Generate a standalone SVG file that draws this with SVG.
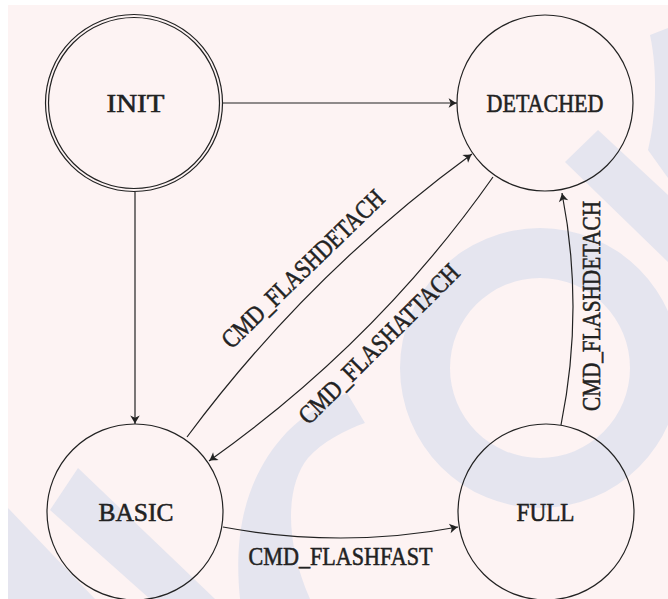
<svg xmlns="http://www.w3.org/2000/svg" width="668" height="599" viewBox="0 0 668 599">
  <style>
    .node { fill: none; stroke: #222; stroke-width: 1.2; }
    .edge { fill: none; stroke: #222; stroke-width: 1.2; }
    .lbl { font-family: "Liberation Serif", "DejaVu Serif", serif; font-size: 26px; fill: #222; stroke: #222; stroke-width: 0.55; text-anchor: middle; }
    .wm { fill: #e5e5ef; }
  </style>
  <defs>
    <marker id="arr" markerUnits="userSpaceOnUse" markerWidth="12" markerHeight="12" viewBox="-8 -5 10 10" refX="0" refY="0" orient="auto">
      <path d="M0,0 C-2,-0.8 -4.5,-2.5 -7,-4 L-5.3,0 L-7,4 C-4.5,2.5 -2,0.8 0,0 Z" fill="#222"/>
    </marker>
  </defs>

  <g id="background">
    <rect x="0" y="0" width="668" height="599" fill="#ffffff"/>
    <rect x="8" y="5" width="660" height="594" fill="#fdf3f3"/>
    <path class="wm" fill-rule="evenodd" d="M400,368 A140,140 0 1 0 680,368 A140,140 0 1 0 400,368 Z M450,368 A90,90 0 1 0 630,368 A90,90 0 1 0 450,368 Z"/>
    <path class="wm" d="M240,599 C234,540 242,480 287,432 C305,414 325,402 347,393 L365,423 C345,430 322,442 308,458 C286,485 284,540 310,599 Z"/>
    <polygon class="wm" points="565,162 598,130 668,195 668,262"/>
    <path class="wm" d="M650,35 L668,28 L668,178 L648,150 C656,118 658,72 650,35 Z"/>
    <polygon class="wm" points="50,510 78,468 215,599 150,599"/>
    <polygon class="wm" points="8,508 95,599 8,599"/>
  </g>

  <g id="connectors">
    <line class="edge" x1="222" y1="103" x2="457" y2="103" marker-end="url(#arr)"/>
    <line class="edge" x1="135" y1="192" x2="135" y2="424" marker-end="url(#arr)"/>
    <path class="edge" d="M187,437 Q308,274 472,154" marker-end="url(#arr)"/>
    <path class="edge" d="M493,177 Q377,342 209,461" marker-end="url(#arr)"/>
    <path class="edge" d="M223,527 Q341,549 458,527" marker-end="url(#arr)"/>
    <path class="edge" d="M561,425 Q584.5,309 562,193" marker-end="url(#arr)"/>
    <text class="lbl" transform="translate(303,269) rotate(-44)" x="0" y="8.5" textLength="215" lengthAdjust="spacingAndGlyphs">CMD_FLASHDETACH</text>
    <text class="lbl" transform="translate(379,344) rotate(-44.8)" x="0" y="8.5" textLength="215" lengthAdjust="spacingAndGlyphs">CMD_FLASHATTACH</text>
    <text class="lbl" x="340.5" y="565" textLength="184" lengthAdjust="spacingAndGlyphs">CMD_FLASHFAST</text>
    <text class="lbl" transform="translate(591,306) rotate(-90)" x="0" y="8.5" textLength="210" lengthAdjust="spacingAndGlyphs">CMD_FLASHDETACH</text>
  </g>

  <g id="node-init">
    <circle class="node" cx="134" cy="103" r="88.5"/>
    <circle class="node" cx="134" cy="103" r="85.5"/>
    <text class="lbl" x="135.5" y="112" textLength="58" lengthAdjust="spacingAndGlyphs">INIT</text>
  </g>
  <g id="node-detached">
    <circle class="node" cx="545" cy="103" r="88"/>
    <text class="lbl" x="545" y="111.5" textLength="117" lengthAdjust="spacingAndGlyphs">DETACHED</text>
  </g>
  <g id="node-basic">
    <circle class="node" cx="135" cy="512" r="88"/>
    <text class="lbl" x="136" y="520.5" textLength="75" lengthAdjust="spacingAndGlyphs">BASIC</text>
  </g>
  <g id="node-full">
    <circle class="node" cx="546" cy="512" r="88"/>
    <text class="lbl" x="545.5" y="520.5" textLength="58" lengthAdjust="spacingAndGlyphs">FULL</text>
  </g>
</svg>
